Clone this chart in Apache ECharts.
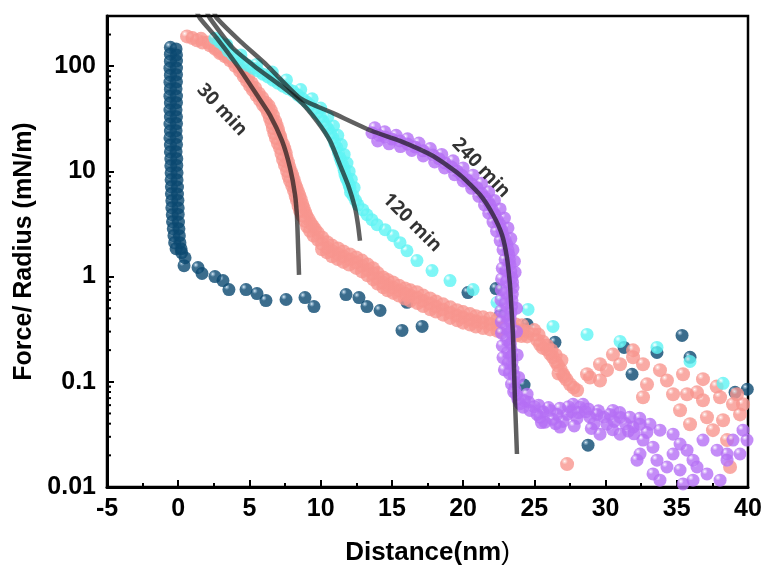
<!DOCTYPE html>
<html><head><meta charset="utf-8">
<script src="https://cdn.jsdelivr.net/npm/echarts@6/dist/echarts.min.js"></script>
<style>html,body{margin:0;padding:0;background:#fff}#c{width:766px;height:571px}</style>
</head><body><div id="c"></div>
<script>
// ---- axes ----
const xMin = -5, xMax = 40, xInterval = 5;
const yMin = 0.01, yMax = 300;
const yMinorTicks = [0.02,0.03,0.04,0.05,0.06,0.07,0.08,0.09,0.2,0.3,0.4,0.5,0.6,0.7,0.8,0.9,2,3,4,5,6,7,8,9,20,30,40,50,60,70,80,90,200,300];

// ---- 0 min (navy) ----
const navyData = [
 [-0.55,151],[-0.15,146],[-0.55,130],[-0.12,128],[-0.55,111.5],[-0.12,112],[-0.58,95.7],[-0.12,96],[-0.55,82.2],[-0.12,83],
 [-0.58,70.5],[-0.12,71],[-0.55,60.5],[-0.15,61],[-0.58,51.9],[-0.12,52],[-0.55,44.6],[-0.12,45],[-0.58,38.3],[-0.15,38.5],
 [-0.55,32.9],[-0.12,33],[-0.58,28.2],[-0.12,28.5],[-0.55,24.2],[-0.15,24.4],[-0.58,20.8],[-0.12,21],[-0.55,17.8],[-0.12,18],
 [-0.55,15.3],[-0.15,15.4],[-0.52,13.1],[-0.1,13.2],[-0.52,11.3],[-0.1,11.4],[-0.5,9.68],[-0.08,9.7],[-0.5,8.31],[-0.08,8.3],
 [-0.48,7.13],[-0.05,7.1],[-0.48,6.12],[-0.05,6.1],[-0.45,5.25],[-0.02,5.3],[-0.45,4.51],[0.0,4.5],[-0.42,3.87],[0.0,3.9],
 [-0.4,3.32],[0.02,3.3],[-0.35,2.85],[0.05,2.85],[-0.3,2.45],[0.08,2.45],[-0.25,2.1],[0.12,2.1],[-0.15,1.84],[0.2,1.84],
 [0.24,1.69],[0.48,1.51],[0.41,1.27],[1.39,1.22],[1.67,1.07],[2.58,1.0],[3.14,0.916],[3.56,0.753],[4.76,0.753],[5.53,0.69],
 [6.16,0.592],[7.57,0.606],[8.9,0.632],[9.53,0.519],[11.78,0.675],[12.69,0.632],[13.25,0.519],[14.17,0.476],[15.71,0.308],
 [17.12,0.336],[16.06,0.57],[20.34,0.705],[22.31,0.769],[22.59,0.427],[24.49,0.351],[26.45,0.237],[31.3,0.212],[33.61,0.19],
 [31.86,0.118],[35.37,0.276],[35.93,0.171],[39.09,0.0794],[39.95,0.085],[28.77,0.025],[24.28,0.093]
];

// ---- 30 min (salmon) ----
const salmonData = [
 [0.62,192],[1.0,185],[1.32,176],[1.7,168],[2.23,158],[2.6,146],[2.93,133],[3.3,124],[3.64,114],[4.0,101],[4.34,89.7],[4.6,80],
 [4.83,72.1],[5.05,65],[5.25,59.2],[5.5,53],[5.74,47.6],[5.95,43],[6.16,40.0],[6.3,36],[6.44,32.1],[6.55,29],[6.65,25.8],[6.75,23],
 [6.86,20.8],[7.0,18.5],[7.15,16.7],[7.25,14.7],[7.36,12.9],[7.5,11.4],[7.64,10.1],[7.75,9.0],[7.85,8.13],[8.0,7.3],[8.13,6.53],
 [8.25,5.8],[8.34,5.25],[8.45,4.7],[8.55,4.22],[8.7,3.8],[8.9,3.39],[9.05,3.0],[9.25,2.73],[9.5,2.45],[9.81,2.24],[10.1,2.05],
 [10.45,1.88],[10.8,1.75],[11.22,1.65],[11.6,1.55],[12.06,1.45],[12.5,1.36],[12.9,1.27],[13.3,1.16],[13.67,1.07],[14.0,0.97],
 [14.38,0.877],[14.7,0.83],[15.08,0.787],[15.5,0.74],[15.92,0.69],[16.3,0.66],[16.76,0.632],[17.2,0.59],[17.68,0.555],[18.1,0.52],
 [18.59,0.487],[19.1,0.455],[19.57,0.427],[20.0,0.41],[20.48,0.391],[20.9,0.375],[21.4,0.366],[21.9,0.355],[22.38,0.343],[22.8,0.33],
 [23.29,0.315],[23.7,0.31],[24.14,0.308],[24.5,0.3],[24.91,0.282],[25.2,0.25],[25.4,0.227],[25.6,0.21],[25.89,0.203],[26.1,0.185],
 [26.31,0.171],[26.5,0.155],[26.66,0.143],[26.85,0.13],[27.01,0.118],[27.25,0.105],[27.51,0.0946],[27.75,0.088],[28.0,0.0831],
 [1.6,182],[2.1,168],[2.6,150],[3.0,136],[3.5,122],[3.9,110],[4.3,97],[4.6,86],[4.9,78],[5.15,69],[5.4,62],[5.65,55],[5.9,50],[6.15,45],
 [6.35,42],[6.5,38],[6.65,34],[6.8,30],[6.9,27.5],[7.0,25],[7.05,23],[7.15,21.5],[7.2,20],[7.35,18],[7.45,16.5],[7.55,15],
 [7.6,13.5],[7.7,12.2],[7.8,11],[7.9,10],[8.0,9.2],[8.1,8.4],[8.2,7.6],[8.3,7.0],[8.4,6.4],[8.5,5.9],[8.6,5.4],[8.7,4.9],[8.8,4.5],
 [8.9,4.1],[9.0,3.8],[9.15,3.5],[9.3,3.2],[9.45,3.0],[9.6,2.8],
 [9.8,2.6],[10.1,2.35],[10.45,2.12],[10.8,1.97],[11.22,1.85],[11.6,1.73],[12.06,1.62],[12.5,1.52],[12.9,1.42],[13.3,1.3],[13.67,1.2],
 [14.0,1.08],[14.38,0.98],[14.7,0.93],[15.08,0.88],[15.5,0.82],[15.92,0.77],[16.3,0.74],[16.76,0.71],[17.2,0.66],
 [17.68,0.62],[18.1,0.58],[18.59,0.545],[19.1,0.51],[19.57,0.48],[20.0,0.46],[20.48,0.44],[20.9,0.42],[21.4,0.41],[21.9,0.4],
 [22.38,0.385],[22.8,0.37],[23.29,0.355],[23.7,0.35],[24.14,0.345],
 [10.1,1.82],[10.45,1.7],[10.8,1.56],[11.2,1.47],[11.6,1.38],[12.0,1.3],[12.5,1.21],[12.9,1.12],[13.3,1.03],[13.7,0.94],[14.0,0.86],
 [14.4,0.79],[14.7,0.74],[15.1,0.7],[15.5,0.66],[15.9,0.62],[16.3,0.59],[16.8,0.56],[17.2,0.525],[17.7,0.49],[18.1,0.465],[18.6,0.435],
 [19.1,0.405],[19.6,0.385],[20.0,0.365],[20.5,0.35],[20.9,0.335],[21.4,0.325],[21.9,0.315],[22.4,0.305],[22.8,0.295],[23.3,0.285],
 [23.7,0.275],[24.1,0.272],[24.5,0.27],
 [25.0,0.31],[25.3,0.28],[25.6,0.24],[25.9,0.22],[26.2,0.2],[26.5,0.18],[26.7,0.12],[26.9,0.16],[27.1,0.112],[27.3,0.0165],
 [28.7,0.118],[28.91,0.11],[29.61,0.147],[30.1,0.129],[29.61,0.103],[30.52,0.182],[31.02,0.147],[31.93,0.171],[32.63,0.147],
 [31.93,0.199],[32.91,0.0946],[32.63,0.0713],[33.82,0.129],[34.31,0.103],[35.44,0.118],[34.74,0.0762],[35.72,0.0762],
 [35.23,0.0537],[35.93,0.0395],[36.84,0.106],[36.84,0.0668],[37.12,0.0461],[38.04,0.0713],[38.25,0.0431],[37.54,0.0347],
 [38.95,0.0612],[39.44,0.049],[39.23,0.0762],[39.65,0.0612],[38.53,0.0279],[38.74,0.0155],[36.42,0.0794],[37.8,0.09]
];

// ---- 120 min (cyan) ----
const cyanData = [
 [2.58,184],[3.21,158],[3.85,127],[4.55,109],[5.25,95.7],[5.95,84],[6.65,73.6],[7.36,64.5],[8.06,57.9],[8.69,49.7],[9.25,42.7],
 [9.74,35.8],[10.16,30.1],[10.52,25.3],[10.87,20.8],[11.15,16.7],[11.36,13.4],[11.57,11.3],[11.71,9.27],[11.92,7.95],[12.06,6.98],
 [12.27,5.87],[12.62,4.81],[12.97,4.31],[13.25,3.87],[13.6,3.47],[13.96,3.11],[14.52,2.79],[15.08,2.45],[15.57,2.1],[16.06,1.76],
 [16.76,1.42],[17.82,1.14],[19.08,0.916],[20.7,0.753],[22.38,0.567],[24.56,0.487],[26.31,0.336],[28.7,0.282],[31.02,0.242],
 [33.61,0.212],[35.93,0.156],[38.25,0.0968],
 [2.9,170],[3.5,140],[4.2,118],[4.9,102],[5.6,90],[6.3,79],[7.0,69],[7.7,61],[8.4,53],[9.0,46],[9.5,39],[10.0,33],[10.4,27],
 [10.7,23],[11.0,18.5],[11.25,15],[11.45,12.4],[11.65,10.2],[11.8,8.6],[12.0,7.4],[12.1,6.3],[12.45,5.3],
 [3.4,160],[4.4,128],[5.5,104],[6.6,88],[7.6,74],[8.6,60],[9.4,49],[10.0,40],[10.5,33],[10.9,27],[11.2,22],[11.45,18],[11.65,14.5],
 [11.85,12],[12.0,10],[12.15,8.4],[12.35,7]
];

// ---- 240 min (purple) ----
const purpleData = [
 [13.6,23.2],[14.1,22],[14.52,21.2],[15.0,20.3],[15.57,19.5],[16.1,18.2],[16.62,17.1],[17.2,15.7],[17.89,14.3],[18.3,13.2],
 [18.73,12.05],[19.2,11.0],[19.57,10.1],[19.9,9.2],[20.27,8.3],[20.6,7.6],[20.98,6.98],[21.3,6.2],[21.54,5.61],[21.75,5.2],
 [21.89,4.81],[22.05,4.3],[22.24,3.87],[22.4,3.45],[22.59,3.11],[22.7,2.8],[22.8,2.5],[22.95,2.25],[23.08,2.01],[23.15,1.8],
 [23.22,1.62],[23.25,1.45],[23.29,1.3],[23.35,1.12],[23.43,0.98],[23.47,0.88],[23.5,0.787],[23.45,0.68],[23.43,0.592],[23.4,0.52],
 [23.36,0.456],[23.3,0.4],[23.29,0.351],[23.29,0.3],[23.29,0.264],[23.32,0.23],[23.36,0.203],[23.4,0.175],[23.43,0.153],[23.5,0.132],
 [23.57,0.115],[23.6,0.1],[23.64,0.085],[23.75,0.075],[23.85,0.0683],[24.0,0.062],[24.21,0.0573],
 [13.8,26],[14.5,23.8],[15.3,22],[16.1,20.4],[16.9,18.6],[17.7,16.5],[18.5,14.5],[19.3,12.6],[20.0,10.8],[20.7,9.2],[21.3,7.7],
 [21.8,6.4],[22.2,5.3],[22.6,4.4],[22.9,3.6],[23.15,2.9],[23.35,2.3],[23.5,1.8],[23.6,1.4],[23.65,1.1],
 [14.0,19.5],[14.8,18.3],[15.6,17.2],[16.4,15.8],[17.2,14.0],[18.0,12.3],[18.7,10.8],[19.4,9.3],[20.0,8.1],[20.6,6.9],[21.1,5.8],
 [21.5,4.8],[21.8,4.0],[22.1,3.3],[22.35,2.7],[22.6,2.2],[22.8,1.8],[22.95,1.45],[23.0,1.15],[23.05,0.9],[23.0,0.7],[22.95,0.55],
 [22.95,0.42],[23.0,0.32],[23.05,0.25],[23.1,0.19],[23.15,0.15],[23.25,0.12],[23.4,0.095],[23.55,0.08],
 [22.75,1.2],[22.7,0.95],[22.68,0.75],[22.65,0.6],[22.65,0.47],[22.68,0.37],[22.7,0.29],[22.75,0.22],[22.8,0.17],[22.9,0.13],
 [23.75,0.5],[23.75,0.3],[23.8,0.18],[23.9,0.11],
 [24.49,0.0762],[24.7,0.0534],[25.19,0.049],[25.4,0.0461],[25.75,0.0413],[26.1,0.0534],[26.59,0.049],[26.8,0.0371],[27.3,0.049],
 [27.72,0.0612],[28.21,0.0573],[28.42,0.0612],[28.91,0.0461],[29.4,0.049],[29.61,0.0318],[30.1,0.0395],[30.52,0.0534],[31.02,0.0461],
 [31.02,0.0318],[31.93,0.0371],[32.42,0.0395],[33.12,0.0395],[33.82,0.0347],[34.74,0.0318],[32.63,0.0279],[33.33,0.0239],
 [32.42,0.0206],[32.21,0.018],[33.61,0.018],[34.31,0.0155],[33.82,0.0116],[34.74,0.0206],[35.23,0.0256],[35.72,0.0224],
 [36.14,0.018],[36.84,0.0279],[37.83,0.0224],[38.53,0.0206],[38.95,0.0279],[39.65,0.0347],[39.93,0.0279],[37.12,0.0133],
 [38.04,0.0116],[36.14,0.0116],[35.23,0.0145],[36.42,0.0155],[35.44,0.0107],[38.53,0.018],[39.44,0.0206],[33.33,0.0133],
 [24.3,0.066],[25.0,0.058],[25.6,0.052],[26.3,0.044],[27.0,0.042],[27.6,0.052],[28.0,0.045],[28.6,0.052],[29.2,0.04],[29.9,0.046],
 [30.6,0.042],[31.4,0.04],[32.0,0.032],
 [24.6,0.064],[25.3,0.06],[26.0,0.057],[26.8,0.056],[27.4,0.058],[28.1,0.051],[28.8,0.055],[29.5,0.053],[30.3,0.049],[31.0,0.051],
 [31.7,0.046],[32.4,0.045],[25.5,0.041],[26.5,0.04],[27.8,0.038],[29.0,0.036],[30.5,0.035],[31.6,0.034],[32.9,0.033]
];

// ---- fits ----
const fit30 = [[1.3,330],[1.53,285],[2.72,184],[4.13,102],[5.53,53.1],[6.44,34.3],[7.29,19.5],[7.85,10.8],[8.2,5.99],[8.34,3.62],[8.41,2.01],[8.48,1.04]];
const fit120 = [[2.0,330],[2.23,285],[3.85,148],[5.53,95.7],[7.15,66.1],[8.55,46.6],[9.74,30.1],[10.66,19.5],[11.36,11.5],[11.92,7.45],[12.41,4.51],[12.62,3.11],[12.76,2.19]];
const fit240 = [[2.5,330],[2.72,285],[4.34,173],[6.23,102],[8.55,49.7],[10.87,35.8],[13.6,24.2],[15.57,19.5],[17.89,14.0],[19.78,9.26],[21.19,5.99],[22.1,3.87],[22.73,2.5],[23.08,1.51],[23.29,0.84],[23.36,0.592],[23.5,0.282],[23.57,0.137],[23.64,0.0668],[23.71,0.0371],[23.78,0.0206]];

// ---- annotations ----
const labels = [[3.07,38.3,'30 min',-47],[16.41,3.25,'120 min',-45],[21.26,10.8,'240 min',-46]];

// draw order: far points first, so the near (upper-left) points sit on top
const drawOrder = d => d.slice().sort((a,b) => (b[0]-2*Math.log10(b[1])) - (a[0]-2*Math.log10(a[1])));

function sphere(base, light) {
  return {type:'radial', x:0.33, y:0.3, r:0.75, colorStops:[
    {offset:0, color:'#ffffff'},{offset:0.1, color:light},{offset:0.3, color:base},{offset:1, color:base}]};
}
const bold = {fontFamily:'Liberation Sans, Arial, sans-serif', fontWeight:'bold', color:'#000'};
const fitStyle = {color:'rgba(20,20,20,0.68)', width:4.5};

const chart = echarts.init(document.getElementById('c'), null, {renderer:'canvas'});
chart.setOption({
  animation:false,
  grid:{left:107, right:18, top:16, bottom:82, show:true, borderColor:'#000', borderWidth:2.5},
  xAxis:{type:'value', min:xMin, max:xMax, interval:xInterval,
    name:'{b|Distance(nm}{n|)}', nameLocation:'middle', nameGap:53,
    nameTextStyle:{rich:{b:Object.assign({fontSize:26},bold), n:{fontSize:26, fontFamily:'Liberation Sans, Arial, sans-serif', color:'#000'}}},
    axisLine:{show:true, onZero:false, lineStyle:{color:'#000', width:3}},
    axisTick:{show:true, inside:true, length:7, lineStyle:{color:'#000', width:2}},
    minorTick:{show:true, splitNumber:2, length:4, lineStyle:{color:'#000', width:2}},
    axisLabel:Object.assign({fontSize:25, margin:10}, bold),
    splitLine:{show:false}},
  yAxis:{type:'log', logBase:10, min:yMin, max:yMax,
    name:'Force/ Radius (mN/m)', nameLocation:'middle', nameGap:58, nameRotate:90,
    nameTextStyle:Object.assign({fontSize:25}, bold),
    axisLine:{show:true, onZero:false, lineStyle:{color:'#000', width:3}},
    axisTick:{show:true, inside:true, length:7, lineStyle:{color:'#000', width:2}},
    axisLabel:Object.assign({fontSize:25, margin:11, showMaxLabel:false,
      formatter:v=>String(+v.toPrecision(3))}, bold),
    splitLine:{show:false}},
  series:[
    {type:'custom', silent:true, z:1, data:yMinorTicks.map(v=>[xMin,v]),
     renderItem:(p,api)=>{const pt=api.coord([api.value(0),api.value(1)]);
       return {type:'line', shape:{x1:pt[0],y1:pt[1],x2:pt[0]+4,y2:pt[1]}, style:{stroke:'#000', lineWidth:2}};}},
    {type:'scatter', name:'0 min', data:drawOrder(navyData), symbolSize:13, z:2,
     itemStyle:{color:sphere('#0a4870','#7aa6c4')}},
    {type:'scatter', name:'30 min', data:drawOrder(salmonData), symbolSize:14, z:3,
     itemStyle:{color:sphere('#f8958e','#fcd3cf')}},
    {type:'scatter', name:'120 min', data:drawOrder(cyanData), symbolSize:13, z:4,
     itemStyle:{color:sphere('#5ef4f4','#cafcfc')}},
    {type:'scatter', name:'240 min', data:drawOrder(purpleData), symbolSize:13, z:5,
     itemStyle:{color:sphere('#b56ff5','#e2c8fb')}},
    {type:'line', data:fit30, smooth:0.2, showSymbol:false, lineStyle:fitStyle, z:6, clip:true},
    {type:'line', data:fit120, smooth:0.2, showSymbol:false, lineStyle:fitStyle, z:6, clip:true},
    {type:'line', data:fit240, smooth:0.2, showSymbol:false, lineStyle:fitStyle, z:6, clip:true},
    {type:'scatter', symbolSize:0, z:8, silent:true,
     data:labels.map(l=>({value:[l[0],l[1]], name:l[2], label:{rotate:l[3]}})),
     label:{show:true, position:'inside', formatter:p=>p.name, fontSize:19, fontWeight:'bold',
       fontFamily:'Open Sans, sans-serif', color:'#000'}}
  ]
});
</script></body></html>
